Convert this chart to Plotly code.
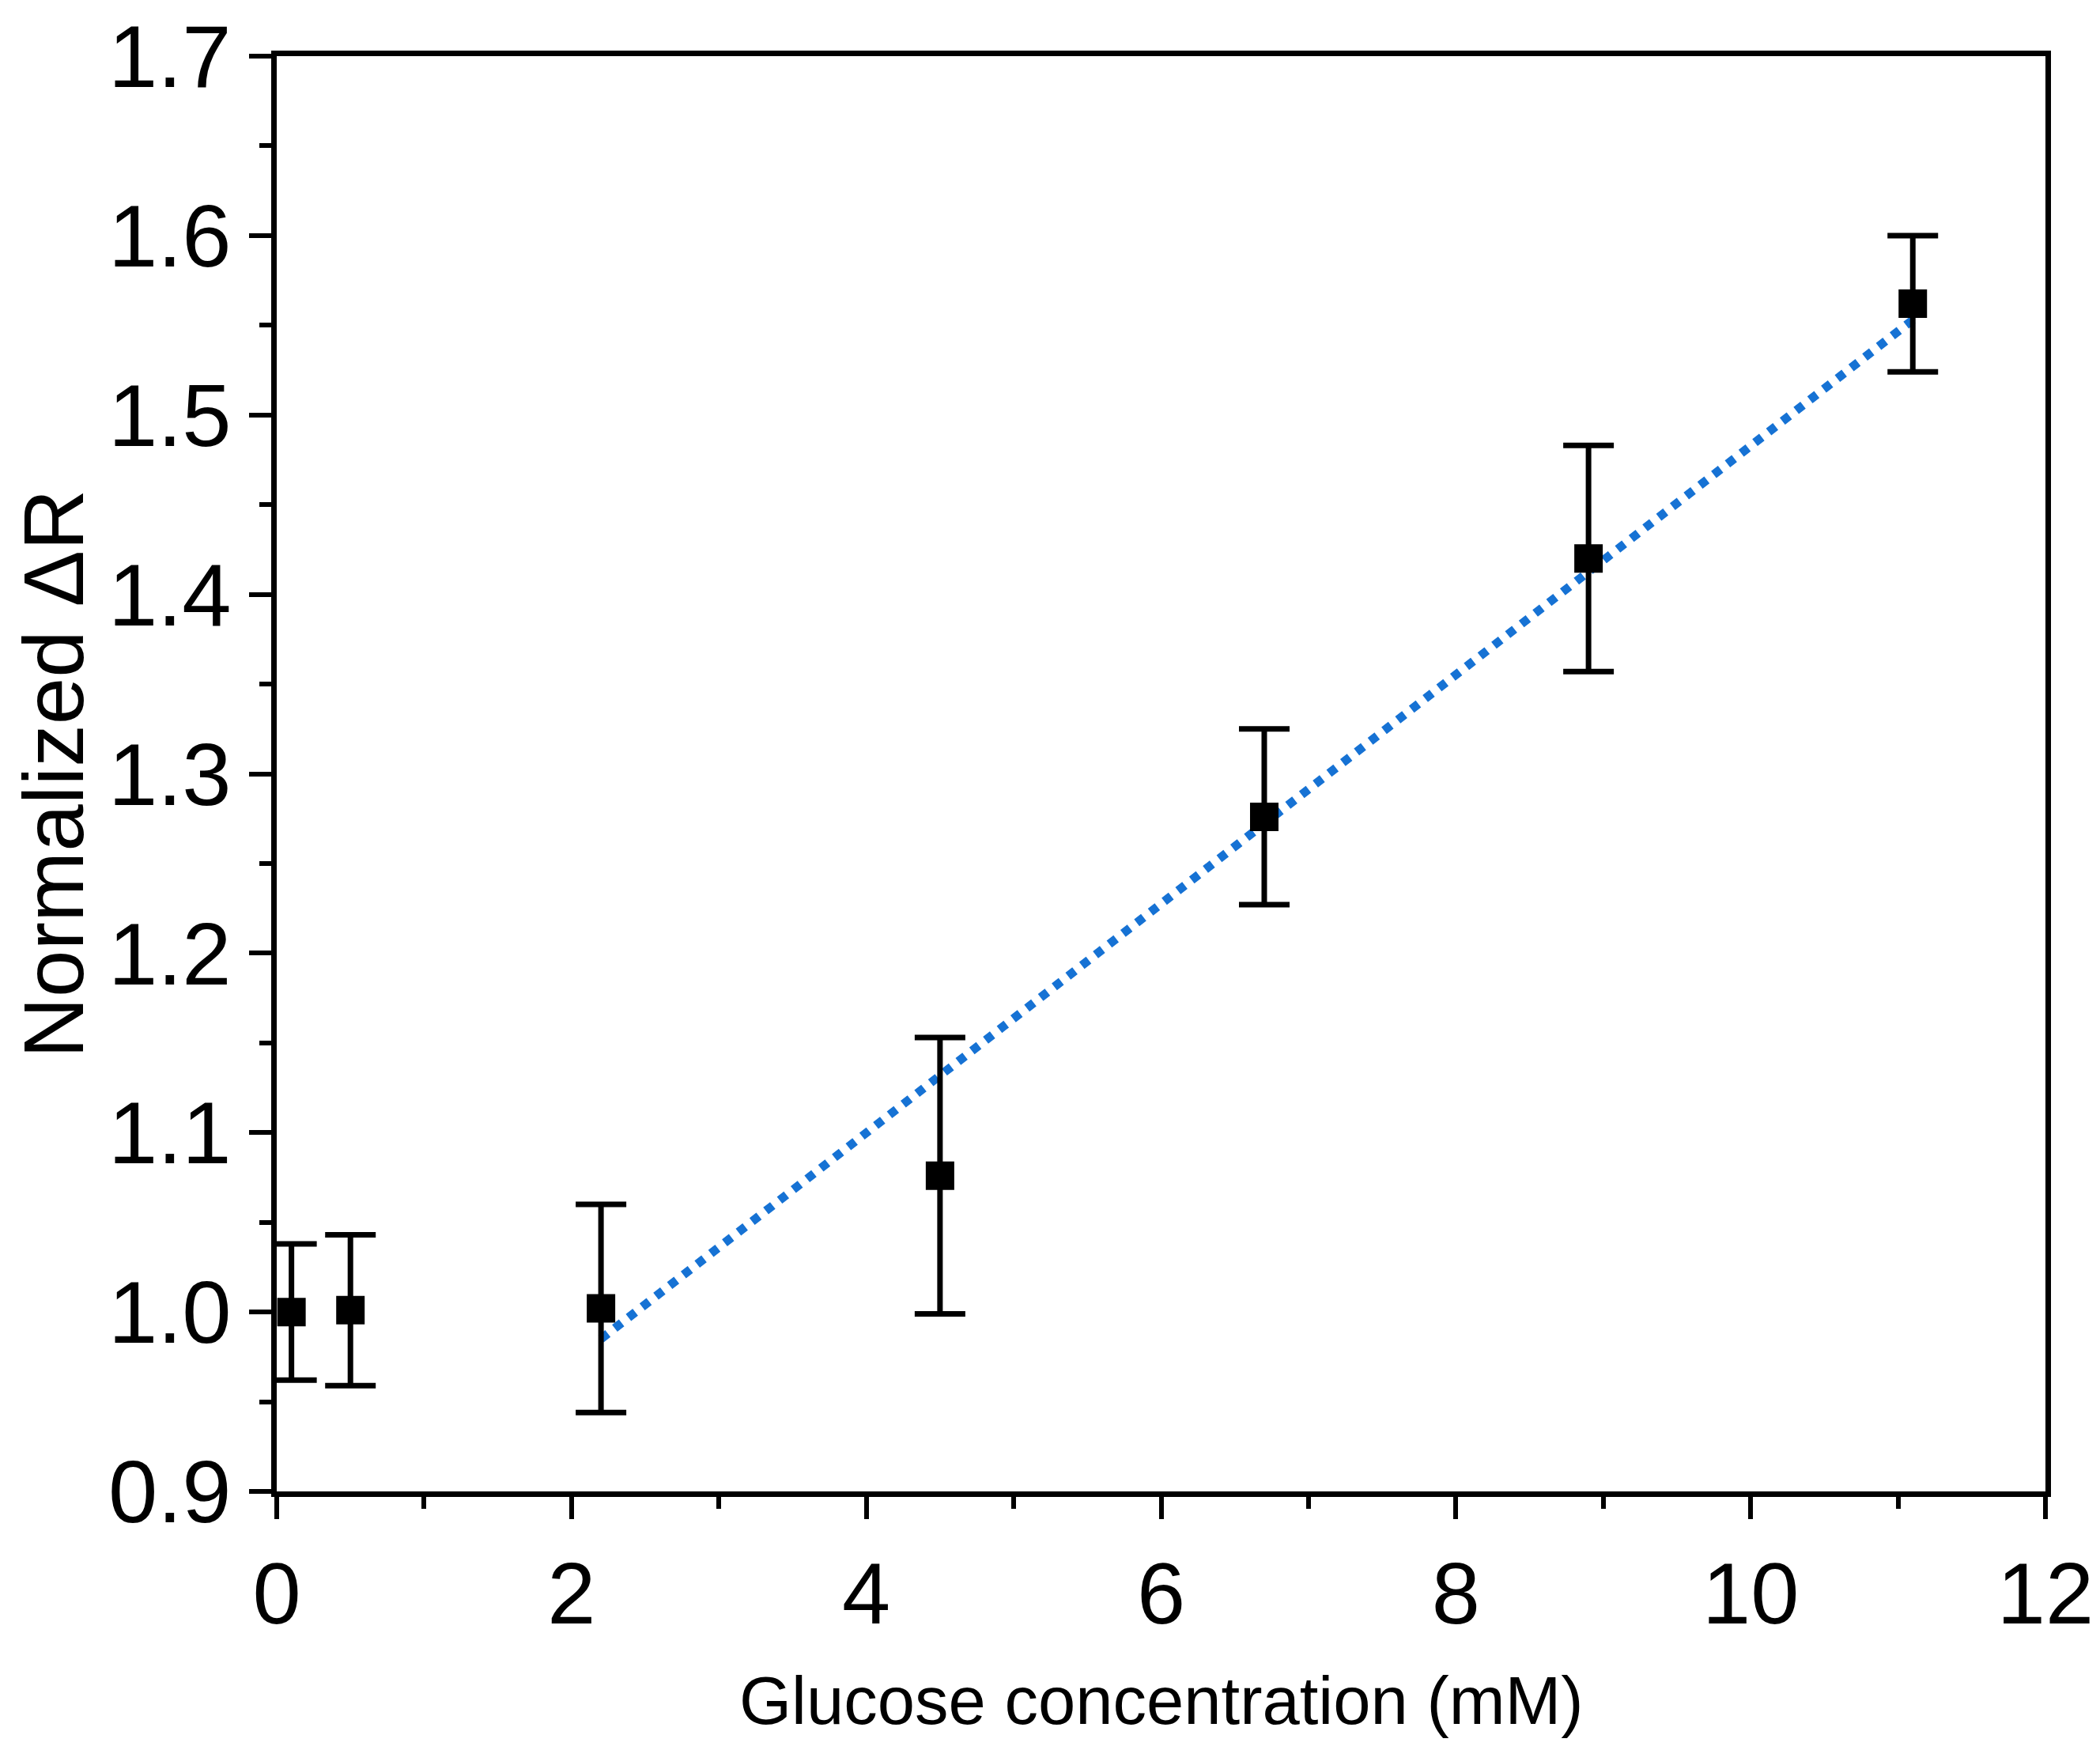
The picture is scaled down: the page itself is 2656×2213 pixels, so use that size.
import plotly.graph_objects as go

# glucose concentration (mM) and normalized response
glucose = [0.1, 0.5, 2.2, 4.5, 6.7, 8.9, 11.1]
delta_r = [1.000, 1.001, 1.002, 1.076, 1.276, 1.420, 1.562]
delta_r_err = [0.038, 0.042, 0.058, 0.077, 0.049, 0.063, 0.038]

# linear fit over the 2.2 - 11.1 mM range
fit_x = [2.2, 11.1]
fit_y = [0.985, 1.553]

font_family = 'Liberation Sans, Arial, sans-serif'

fig = go.Figure()

fig.add_trace(go.Scatter(
    x=fit_x, y=fit_y,
    mode='lines',
    line=dict(color='rgb(22, 114, 212)', width=11, dash='dot'),
    showlegend=False,
))

fig.add_trace(go.Scatter(
    x=glucose, y=delta_r,
    mode='markers',
    marker=dict(symbol='square', size=36, color='black'),
    error_y=dict(type='data', array=delta_r_err, visible=True,
                 color='black', thickness=7, width=32),
    showlegend=False,
))

fig.update_layout(
    width=2656, height=2213,
    paper_bgcolor='white',
    plot_bgcolor='white',
    margin=dict(l=342, r=77, t=63, b=335),
    font=dict(family=font_family, color='black'),
)

fig.update_xaxes(
    range=[0, 12],
    tickmode='linear', tick0=0, dtick=2,
    ticks='outside', ticklen=28, tickwidth=6, tickcolor='black',
    minor=dict(dtick=1, ticks='outside', ticklen=15, tickwidth=6, tickcolor='black'),
    showline=True, linewidth=7, linecolor='black', mirror=True,
    showgrid=False, zeroline=False, automargin=False,
    tickfont=dict(size=110), ticklabeloverflow='allow',
)

fig.update_yaxes(
    range=[0.9, 1.7],
    tickmode='linear', tick0=0.9, dtick=0.1, tickformat='.1f',
    ticks='outside', ticklen=28, tickwidth=6, tickcolor='black',
    minor=dict(dtick=0.05, ticks='outside', ticklen=15, tickwidth=6, tickcolor='black'),
    showline=True, linewidth=7, linecolor='black', mirror=True,
    showgrid=False, zeroline=False, automargin=False,
    tickfont=dict(size=112), ticklabeloverflow='allow',
    title=dict(text='Normalized ΔR', font=dict(size=107), standoff=26),
)

fig.add_annotation(
    text='Glucose concentration (mM)',
    xref='paper', yref='paper', x=0.5, y=-0.146,
    xanchor='center', yanchor='middle',
    showarrow=False, font=dict(size=85),
)

fig.write_html('out.html')
